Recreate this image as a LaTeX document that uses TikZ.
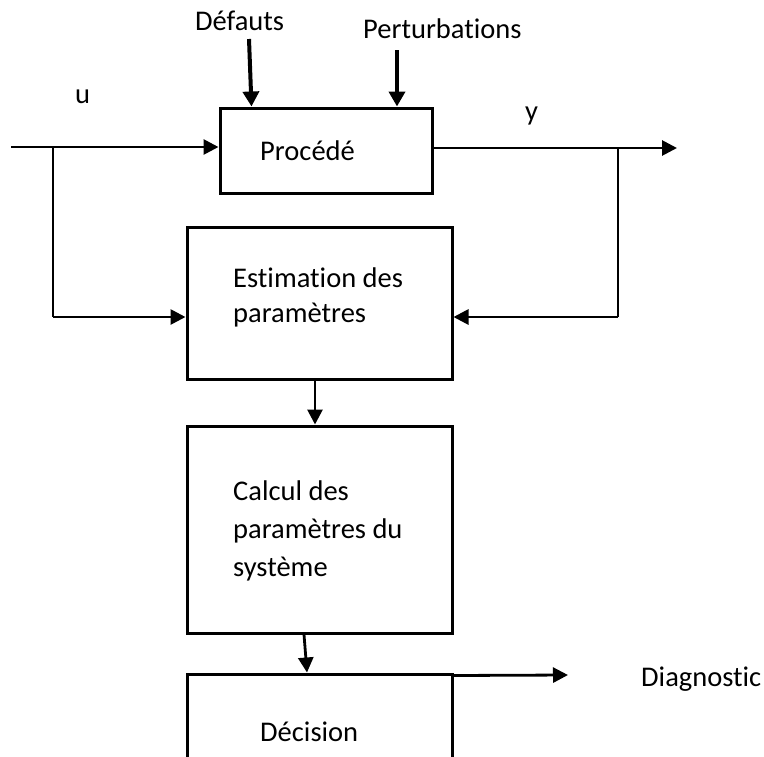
\documentclass[tikz,border=0pt]{standalone}
\usepackage{fontspec}
\setmainfont{Carlito}[Ligatures=NoCommon]
\usetikzlibrary{arrows.meta}
\tikzset{
  blk/.style={draw, line width=3pt, inner sep=0pt},
  lbl/.style={inner sep=0pt, anchor=base west, font=\fontsize{28.5}{34}\selectfont},
  conn/.style={line width=2.8pt, -{Triangle[length=15pt,width=15pt]}},
  branch/.style={line width=2.2pt},
  heavy/.style={line width=4pt, -{Triangle[length=15pt,width=16pt]}},
}
\begin{document}
\begin{tikzpicture}[x=1pt,y=-1pt]
\useasboundingbox (0,0) rectangle (764,756);
\clip (0,0) rectangle (764,756);
\fill[white] (0,0) rectangle (764,756);

% blocks
\node[blk,minimum width=212pt,minimum height=85pt] (proc) at (326,150.5) {};
\node[blk,minimum width=265pt,minimum height=152pt] (est) at (319.5,303) {};
\node[blk,minimum width=265pt,minimum height=207pt] (cal) at (319.5,529.5) {};
\node[blk,minimum width=265pt,minimum height=140pt] (dec) at (319.5,744) {};

% free ends and branch points
\coordinate (uin) at (11,147);
\coordinate (ub) at (53,147);
\coordinate (ubl) at (53,317);
\coordinate (yout) at (677,148);
\coordinate (yb) at (618,148);
\coordinate (ybl) at (618,317);
\coordinate (dtop) at (249,39);
\coordinate (ptop) at (397,50);
\coordinate (diag) at (568,675);

% connectors
\draw[conn] (uin) -- (uin -| proc.west);
\draw[branch] (ub) -- (ubl);
\draw[conn] (ubl) -- (ubl -| est.west);
\draw[conn] (proc.east |- yout) -- (yout);
\draw[branch] (yb) -- (ybl);
\draw[conn] (ybl) -- (ybl -| est.east);
\draw[heavy] (dtop) -- ([xshift=33pt]proc.north west);
\draw[heavy] (ptop) -- (ptop |- proc.north);
\draw[conn] ([xshift=-4.5pt]est.south) -- ([xshift=-4.5pt]cal.north);
\draw[conn] ([xshift=-15.5pt]cal.south) -- ([xshift=-12.5pt]dec.north);
\draw[conn] ([yshift=-3pt]dec.north east) -- (diag);

% labels
\node[lbl] (tdef) at (195,30) {Défauts};
\node[lbl] (tper) at (363,38) {Perturbations};
\node[lbl] (tu) at (75,103) {u};
\node[lbl] (ty) at (525,120) {y};
\node[lbl] (tproc) at (260,160) {Procédé};
\node[lbl] (test1) at (233,287) {Estimation des};
\node[lbl] (test2) at (233,322) {paramètres};
\node[lbl] (tcal1) at (233,500) {Calcul des};
\node[lbl] (tcal2) at (233,538) {paramètres du};
\node[lbl] (tcal3) at (233,576) {système};
\node[lbl] (tdec) at (260,741) {Décision};
\node[lbl] (tdiag) at (641,686) {Diagnostic};
\end{tikzpicture}
\end{document}
